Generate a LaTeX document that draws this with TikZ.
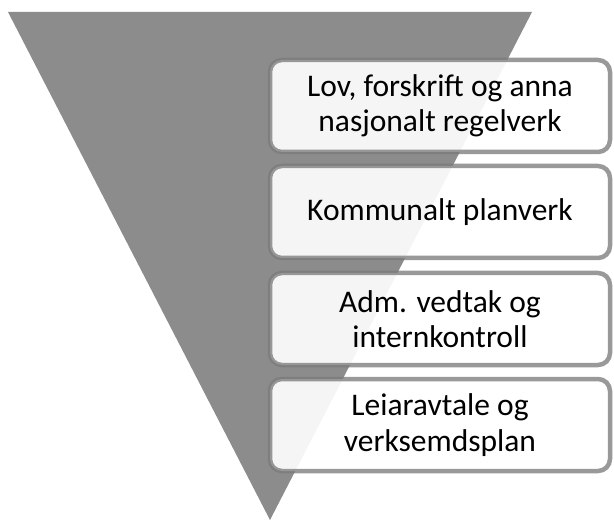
\documentclass[tikz,border=0pt]{standalone}
\usepackage{fontspec}
\setmainfont{Carlito}
\definecolor{tri}{HTML}{8C8C8C}
\definecolor{boxline}{HTML}{7B7B7B}
\tikzset{
  lvl/.style={draw=boxline, draw opacity=0.77, line width=4.5pt, fill=white, fill opacity=0.92, text opacity=1,
    rounded corners=12pt, minimum width=340pt, minimum height=92pt, inner sep=0pt,
    align=center, font=\fontsize{31.5}{35.5}\selectfont, text=black}
}
\begin{document}
\begin{tikzpicture}[x=1pt,y=-1pt]
\fill[white] (0,0) rectangle (614,524);
\useasboundingbox (0,0) rectangle (614,524);
\fill[tri] (8,12) coordinate (tl) -- (532,12) coordinate (tr) -- (270,520) coordinate (tip) -- cycle;
\node[lvl] (b1) at (440,106) {Lov, forskrift og anna\\nasjonalt regelverk};
\node[lvl] (b2) at (440,212) {Kommunalt planverk};
\node[lvl] (b3) at (440,319) {Adm. vedtak og\\internkontroll};
\node[lvl] (b4) at (440,425) {Leiaravtale og\\verksemdsplan};
\end{tikzpicture}
\end{document}
